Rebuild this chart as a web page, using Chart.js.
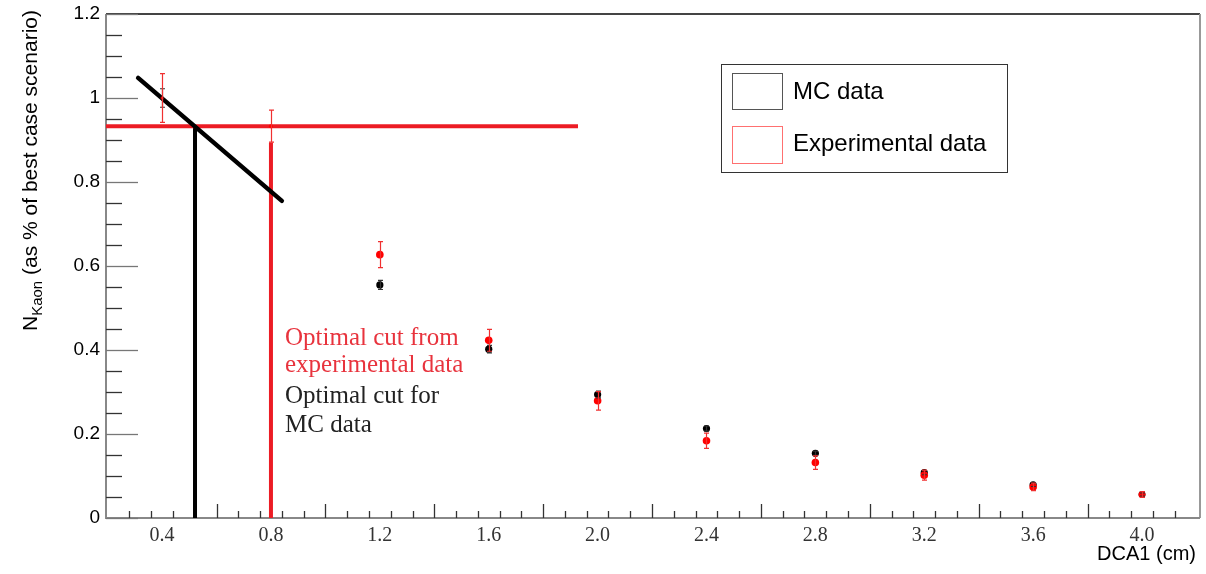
<!DOCTYPE html>
<html>
<head>
<meta charset="utf-8">
<script src="https://cdn.jsdelivr.net/npm/chart.js@4.4.0/dist/chart.umd.min.js"></script>
<style>
html,body{margin:0;padding:0;background:#fff;}
#wrap{width:1206px;height:574px;position:relative;}
canvas{display:block;}
</style>
</head>
<body>
<div id="wrap"><canvas id="c" width="1206" height="574"></canvas></div>
<script>
// ---------- data ----------
const dcaCuts      = [0.4, 0.8, 1.2, 1.6, 2.0, 2.4, 2.8, 3.2, 3.6, 4.0];
const mcValues     = [1.0, null, 0.555, 0.402, 0.294, 0.213, 0.154, 0.108, 0.079, 0.056];
const mcErrors     = [0.022, null, 0.011, 0.009, 0.008, 0.006, 0.005, 0.005, 0.004, 0.004];
const expValues    = [1.0, 0.933, 0.627, 0.423, 0.279, 0.184, 0.132, 0.102, 0.074, 0.056];
const expErrors    = [0.058, 0.038, 0.031, 0.026, 0.022, 0.018, 0.016, 0.012, 0.009, 0.007];
const xTickValues  = [0.4, 0.8, 1.2, 1.6, 2.0, 2.4, 2.8, 3.2, 3.6, 4.0];
const xTickLabels  = ["0.4","0.8","1.2","1.6","2.0","2.4","2.8","3.2","3.6","4.0"];
const yTickLabels  = ["0","0.2","0.4","0.6","0.8","1","1.2"];
const xRange       = [0.194, 4.213];
const yRange       = [0, 1.2];
const legendLabels = ["MC data", "Experimental data"];
const xTitle       = "DCA1 (cm)";
const yTitleMain   = "N";
const yTitleSub    = "Kaon";
const yTitleRest   = " (as % of best case scenario)";
const noteRed      = ["Optimal cut from", "experimental data"];
const noteBlack    = ["Optimal cut for", "MC data"];
// annotation lines (data space)
const expCutLevelX = [0.194, 1.928];
const expCutLevelY = [0.933, 0.933];
const mcTrendX     = [0.312, 0.840];
const mcTrendY     = [1.048, 0.755];
const mcCutX       = [0.521, 0.521];
const mcCutY       = [0, 0.933];
const expCutX      = [0.8, 0.8];
const expCutY      = [0, 0.894];

const RED = '#ec1c24';
const toPts = (xs, ys) => xs.map((x, i) => ({x: x, y: ys[i]}));

// ---------- plugins ----------
const framePlugin = {
  id: 'rootFrame',
  beforeDatasetsDraw(chart) {
    const {ctx, chartArea: a, scales: {x, y}} = chart;
    ctx.save();
    ctx.strokeStyle = '#444'; ctx.lineWidth = 2;
    ctx.beginPath(); ctx.moveTo(a.left, a.top); ctx.lineTo(a.right, a.top); ctx.stroke();
    ctx.strokeStyle = '#999'; ctx.lineWidth = 2;
    ctx.beginPath(); ctx.moveTo(a.right, a.top); ctx.lineTo(a.right, a.bottom); ctx.stroke();
    ctx.strokeStyle = '#888'; ctx.lineWidth = 2;
    ctx.beginPath(); ctx.moveTo(a.left, a.top); ctx.lineTo(a.left, a.bottom); ctx.lineTo(a.right, a.bottom); ctx.stroke();
    ctx.lineWidth = 1.3;
    for (let k = 0; k <= 24; k++) {
      const v = k * 0.05;
      const py = Math.round(y.getPixelForValue(v)) + 0.5;
      const major = (k % 4 === 0);
      ctx.strokeStyle = major ? '#777' : '#333';
      ctx.beginPath(); ctx.moveTo(a.left, py); ctx.lineTo(a.left + (major ? 32 : 16), py); ctx.stroke();
    }
    ctx.strokeStyle = '#333'; ctx.lineWidth = 1.3;
    for (let k = -4; k <= 44; k++) {
      const v = 0.6 + k * 0.08;
      if (v < xRange[0] + 0.02 || v > xRange[1] - 0.02) continue;
      const px = Math.round(x.getPixelForValue(v)) + 0.5;
      const major = ((k % 5) + 5) % 5 === 0;
      ctx.beginPath(); ctx.moveTo(px, a.bottom); ctx.lineTo(px, a.bottom - (major ? 14 : 7)); ctx.stroke();
    }
    ctx.restore();
  }
};

const errorBarPlugin = {
  id: 'errorBars',
  afterDatasetsDraw(chart) {
    const {ctx, scales: {x, y}} = chart;
    const drawSet = (vals, errs, color) => {
      ctx.strokeStyle = color; ctx.lineWidth = 1.2;
      vals.forEach((v, i) => {
        if (v == null || errs[i] == null) return;
        const px = Math.round(x.getPixelForValue(dcaCuts[i])) + 0.5;
        const top = y.getPixelForValue(v + errs[i]);
        const bot = y.getPixelForValue(v - errs[i]);
        ctx.beginPath();
        ctx.moveTo(px, top); ctx.lineTo(px, bot);
        ctx.moveTo(px - 2.5, top); ctx.lineTo(px + 2.5, top);
        ctx.moveTo(px - 2.5, bot); ctx.lineTo(px + 2.5, bot);
        ctx.stroke();
      });
    };
    ctx.save();
    drawSet(mcValues, mcErrors, '#333');
    drawSet(expValues, expErrors, '#f03030');
    ctx.restore();
  }
};

const textPlugin = {
  id: 'texts',
  afterDraw(chart) {
    const {ctx} = chart;
    ctx.save();
    ctx.translate(37, 331);
    ctx.rotate(-Math.PI / 2);
    ctx.fillStyle = '#000';
    ctx.textBaseline = 'alphabetic';
    ctx.textAlign = 'left';
    ctx.font = '21px "Liberation Sans", Arial, sans-serif';
    let cx = 0;
    ctx.fillText(yTitleMain, cx, 0); cx += ctx.measureText(yTitleMain).width;
    ctx.font = '15px "Liberation Sans", Arial, sans-serif';
    ctx.fillText(yTitleSub, cx, 5); cx += ctx.measureText(yTitleSub).width;
    ctx.font = '21px "Liberation Sans", Arial, sans-serif';
    ctx.fillText(yTitleRest, cx, 0);
    ctx.restore();

    ctx.save();
    ctx.fillStyle = '#000';
    ctx.font = '20px "Liberation Sans", Arial, sans-serif';
    ctx.textAlign = 'right'; ctx.textBaseline = 'alphabetic';
    ctx.fillText(xTitle, 1196, 560);

    ctx.textAlign = 'left';
    ctx.font = '25px "Liberation Serif", "Times New Roman", serif';
    ctx.fillStyle = '#e8333d';
    ctx.fillText(noteRed[0], 285, 345);
    ctx.fillText(noteRed[1], 285, 372);
    ctx.fillStyle = '#222';
    ctx.fillText(noteBlack[0], 285, 403);
    ctx.fillText(noteBlack[1], 285, 432);

    ctx.fillStyle = '#fff';
    ctx.fillRect(721, 64, 286, 108);
    ctx.strokeStyle = '#333'; ctx.lineWidth = 1;
    ctx.strokeRect(721.5, 64.5, 286, 108);
    ctx.strokeStyle = '#555';
    ctx.strokeRect(732.5, 73.5, 50, 36);
    ctx.strokeStyle = '#ff7070';
    ctx.strokeRect(732.5, 126.5, 50, 37);
    ctx.fillStyle = '#000';
    ctx.font = '24px "Liberation Sans", Arial, sans-serif';
    ctx.textBaseline = 'middle';
    ctx.fillText(legendLabels[0], 793, 92);
    ctx.fillText(legendLabels[1], 793, 144);
    ctx.restore();
  }
};

// ---------- chart ----------
const ctx = document.getElementById('c').getContext('2d');
new Chart(ctx, {
  type: 'scatter',
  data: {
    datasets: [
      {
        label: legendLabels[1],
        data: toPts(dcaCuts, expValues),
        backgroundColor: '#ff0000', borderColor: '#ff0000',
        pointRadius: [1.5, 2, 3.8, 3.8, 3.8, 3.8, 3.8, 3.8, 3.8, 3.5],
        pointBorderWidth: 0
      },
      {
        label: legendLabels[0],
        data: toPts(dcaCuts, mcValues),
        backgroundColor: '#000', borderColor: '#000',
        pointRadius: [0, 0, 3.6, 3.6, 3.6, 3.6, 3.6, 3.6, 3.6, 3.4],
        pointBorderWidth: 0
      },
      {
        label: 'mc trend', data: toPts(mcTrendX, mcTrendY), showLine: true,
        borderColor: '#000', borderWidth: 4.5, pointRadius: 0, borderCapStyle: 'round'
      },
      {
        label: 'exp cut level', data: toPts(expCutLevelX, expCutLevelY), showLine: true,
        borderColor: RED, borderWidth: 4, pointRadius: 0, borderCapStyle: 'butt'
      },
      {
        label: 'mc cut', data: toPts(mcCutX, mcCutY), showLine: true,
        borderColor: '#000', borderWidth: 4, pointRadius: 0, borderCapStyle: 'butt'
      },
      {
        label: 'exp cut', data: toPts(expCutX, expCutY), showLine: true,
        borderColor: RED, borderWidth: 4, pointRadius: 0, borderCapStyle: 'butt'
      }
    ]
  },
  options: {
    responsive: false,
    animation: false,
    devicePixelRatio: 1,
    events: [],
    layout: { padding: { top: 14, right: 6, left: 0, bottom: 0 } },
    plugins: { legend: { display: false }, tooltip: { enabled: false }, title: { display: false } },
    scales: {
      x: {
        type: 'linear', min: xRange[0], max: xRange[1],
        grid: { display: false, drawTicks: false },
        border: { display: false },
        afterFit(s) { s.height = 56; s.paddingLeft = 0; s.paddingRight = 0; },
        afterBuildTicks(s) { s.ticks = xTickValues.map(v => ({ value: v })); },
        ticks: {
          autoSkip: false, maxRotation: 0, padding: 6,
          color: '#333',
          font: { family: '"Liberation Serif", "Times New Roman", serif', size: 20 },
          callback: (v) => { const i = xTickValues.findIndex(t => Math.abs(t - v) < 1e-6); return i >= 0 ? xTickLabels[i] : ''; }
        }
      },
      y: {
        type: 'linear', min: yRange[0], max: yRange[1],
        grid: { display: false, drawTicks: false },
        border: { display: false },
        afterFit(s) { s.width = 106; s.paddingTop = 0; s.paddingBottom = 0; },
        afterBuildTicks(s) { s.ticks = yTickLabels.map(l => ({ value: parseFloat(l) })); },
        ticks: {
          padding: 6, color: '#000',
          font: { family: '"Liberation Sans", Arial, sans-serif', size: 19 },
          callback: (v) => { const i = yTickLabels.findIndex(l => Math.abs(parseFloat(l) - v) < 1e-6); return i >= 0 ? yTickLabels[i] : ''; }
        }
      }
    }
  },
  plugins: [framePlugin, errorBarPlugin, textPlugin]
});
</script>
</body>
</html>
